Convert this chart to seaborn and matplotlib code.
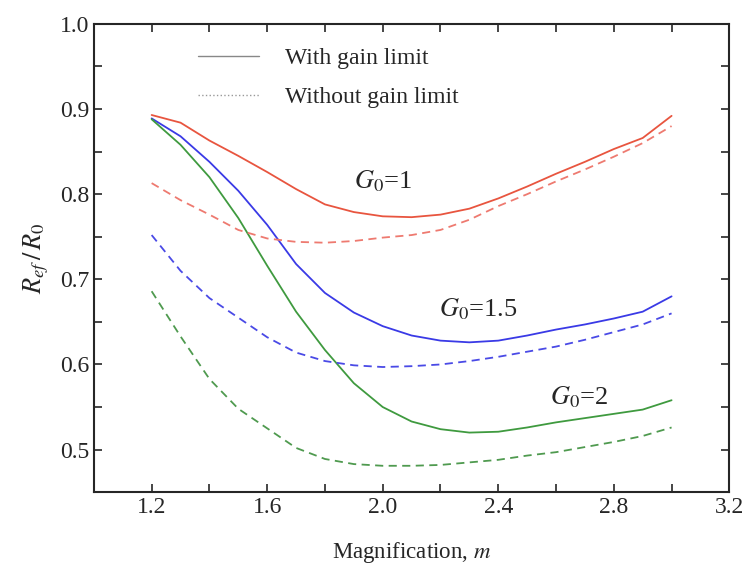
import numpy as np
import pandas as pd
import seaborn as sns
import matplotlib.pyplot as plt
from matplotlib.lines import Line2D
from matplotlib.ticker import MultipleLocator

# magnification values
m = [1.2, 1.3, 1.4, 1.5, 1.6, 1.7, 1.8, 1.9, 2.0, 2.1, 2.2, 2.3, 2.4, 2.5, 2.6, 2.7, 2.8, 2.9, 3.0]

# with gain limit (solid)
g1_lim = [0.893, 0.884, 0.863, 0.845, 0.826, 0.806, 0.788, 0.779, 0.774, 0.773, 0.776, 0.783, 0.795, 0.809, 0.824, 0.838, 0.853, 0.866, 0.892]
g15_lim = [0.889, 0.868, 0.838, 0.804, 0.764, 0.718, 0.684, 0.661, 0.645, 0.634, 0.628, 0.626, 0.628, 0.634, 0.641, 0.647, 0.654, 0.662, 0.680]
g2_lim = [0.888, 0.858, 0.820, 0.772, 0.716, 0.662, 0.617, 0.578, 0.550, 0.533, 0.524, 0.520, 0.521, 0.526, 0.532, 0.537, 0.542, 0.547, 0.558]

# without gain limit (dashed)
g1_nolim = [0.813, 0.793, 0.776, 0.758, 0.748, 0.744, 0.743, 0.745, 0.749, 0.752, 0.758, 0.770, 0.786, 0.800, 0.815, 0.829, 0.844, 0.860, 0.880]
g15_nolim = [0.752, 0.710, 0.678, 0.655, 0.632, 0.614, 0.604, 0.599, 0.597, 0.598, 0.600, 0.604, 0.609, 0.615, 0.621, 0.629, 0.638, 0.647, 0.660]
g2_nolim = [0.686, 0.633, 0.583, 0.548, 0.525, 0.502, 0.489, 0.483, 0.481, 0.481, 0.482, 0.485, 0.488, 0.493, 0.497, 0.503, 0.509, 0.516, 0.526]

sns.set_style("ticks")
plt.rcParams['font.family'] = ['Liberation Serif', 'DejaVu Serif']
plt.rcParams['mathtext.fontset'] = 'stix'

fig, ax = plt.subplots(figsize=(7.45, 5.69), dpi=100)

series = [
    (g1_lim, '#e8553f', '-'), (g15_lim, '#3a3ae6', '-'), (g2_lim, '#3f9a3f', '-'),
    (g1_nolim, '#ee7a70', '--'), (g15_nolim, '#4a4ae6', '--'), (g2_nolim, '#4f9a4f', '--'),
]
for y, c, ls in series:
    line = sns.lineplot(x=m, y=y, color=c, linestyle=ls, linewidth=1.3, ax=ax).lines[-1]
    if ls == '--':
        line.set_dashes((4.5, 3))

ax.set_xlim(1.0, 3.2)
ax.set_ylim(0.45, 1.0)
ax.xaxis.set_major_locator(MultipleLocator(0.4))
ax.xaxis.set_minor_locator(MultipleLocator(0.2))
ax.yaxis.set_major_locator(MultipleLocator(0.1))
ax.yaxis.set_minor_locator(MultipleLocator(0.05))
ax.set_xticks([1.2, 1.6, 2.0, 2.4, 2.8, 3.2])
ax.set_xticklabels(['1.2', '1.6', '2.0', '2.4', '2.8', '3.2'])
ax.tick_params(which='both', direction='in', top=True, right=True, length=6, width=1.2, labelsize=17)
for s in ax.spines.values():
    s.set_linewidth(1.5)

ax.set_xlabel('Magnification, $m$', fontsize=16.5, labelpad=16)
ax.set_ylabel('$R_{ef}\\,/\\,R_0$', fontsize=19, labelpad=6)

ax.text(2.0, 0.807, '$G_0$=1', fontsize=19, ha='center')
ax.text(2.33, 0.657, '$G_0$=1.5', fontsize=19, ha='center')
ax.text(2.68, 0.553, '$G_0$=2', fontsize=19, ha='center')

handles = [Line2D([], [], color='#888888', lw=1.0, ls='-'),
           Line2D([], [], color='#999999', lw=1.0, ls=':')]
ax.legend(handles, ['With gain limit', 'Without gain limit'], loc='upper left',
          bbox_to_anchor=(0.13, 0.995), frameon=False, fontsize=17, handlelength=2.6,
          labelspacing=0.75, handletextpad=1.1)

fig.subplots_adjust(left=0.126, right=0.979, top=0.958, bottom=0.135)
fig.savefig('out.png', dpi=100)
